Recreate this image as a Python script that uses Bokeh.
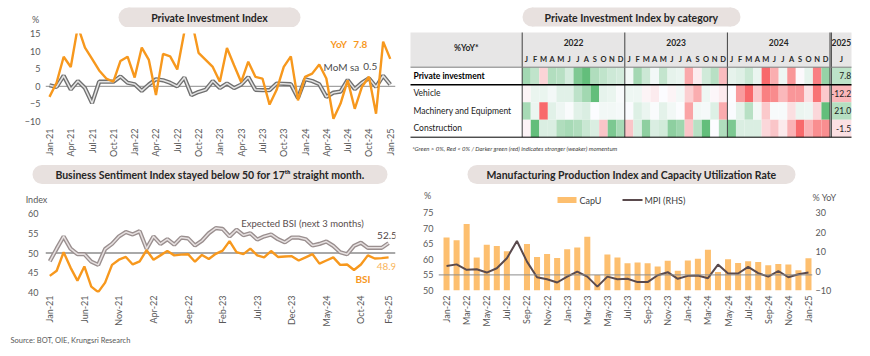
import math
from bokeh.plotting import figure
from bokeh.models import Range1d, LinearAxis, FixedTicker, Span, Label
from bokeh.layouts import row, column
from bokeh.embed import file_html
from bokeh.resources import INLINE
from bokeh.core.properties import value

# ---------------- data ----------------
MON = ["Jan", "Feb", "Mar", "Apr", "May", "Jun", "Jul", "Aug", "Sep", "Oct", "Nov", "Dec"]

# Private Investment Index, Jan-21 .. Jan-25
pii_yoy = [-3.0, 1.0, 8.4, 5.5, 17.0, 11.0, 7.8, 4.5, 2.2, 1.3, 7.2, 8.4,
           2.5, 11.0, 7.5, -2.5, 9.2, 8.5, 4.8, 15.5, 19.0, 9.5, 7.5, 5.5,
           1.3, 10.9, 6.0, 1.2, 7.0, 2.7, 2.2, -5.2, -1.0, 5.5, 8.5, -4.0,
           2.7, 3.6, 6.2, 2.2, -9.2, -4.9, 1.7, -6.4, -0.2, 2.7, -7.8, 12.7,
           7.8]
pii_mom = [0.3, -0.2, 3.0, -0.9, 1.5, -0.5, -4.8, 1.3, 1.3, 1.3, 2.8, 1.0,
           0.6, -1.3, 0.5, 2.0, 1.7, 1.0, 0.0, 2.5, -2.5, -1.6, -1.0, 1.5,
           -0.5, 0.8, -0.5, 0.5, 2.6, -1.0, -1.1, -1.1, 0.8, 0.7, 0.6, -3.3,
           2.0, 1.5, 0.6, -3.0, -1.8, -1.5, 1.8, -0.8, 1.0, 2.3, -0.2, 3.0,
           0.5]

# Heatmap rows, Jan-22 .. Jan-25 (%YoY)
heat_rows = ["Private investment", "Vehicle", "Machinery and Equipment", "Construction"]
heat_private = [11.0, 7.5, -2.5, 9.2, 8.5, 4.8, 15.5, 19.0, 9.5, 7.5, 5.8, 5.1,
                1.3, 10.9, 6.0, 1.2, 7.0, 2.7, 2.2, -5.2, -1.0, 5.5, 8.5, -4.0,
                2.7, 3.6, 6.2, 2.2, -9.2, -4.9, 1.7, -6.4, -0.2, 2.7, -7.8, 12.7,
                7.8]
heat_vehicle = [-1.5, 2, 2, 1, 3, 3, 7, 10, 17, 2.5, 2, 0.5,
                1.5, 1.5, -1.5, -3, 0, -1.5, 1, -8, -14, 1.5, -1, -3,
                0, -17, -26, -9, -22, -20, -12, -18, -18, -5, -24, -9,
                -12.2]
heat_machinery = [25, 5, -20, 8, 4, 1, 8, 10, 0, 3, 3, 2,
                  0.5, 9, 5, 1, 7, 3, 0.3, -12, 3, 2, 9, -11,
                  0.5, 7, 20, 3, -7, 1.5, 1.5, -4, 5, 4, -5, 45,
                  21.0]
heat_construction = [-0.5, 9, 2, 2, 4.5, 5, 4.5, 3, 2, -3, 7.5, 5,
                     -3, 2, 6.5, 2, 2.5, 6.5, 5.5, -3, 4, 9, 0, 4.5,
                     7.5, 2, 2, 2, -2, -3, -1, -4, -8, -4, -6, -6,
                     -1.5]
heat_years = ["2022", "2023", "2024", "2025"]
month_letters = ["J", "F", "M", "A", "M", "J", "J", "A", "S", "O", "N", "D"]

# Business Sentiment Index, Jan-21 .. Feb-25
bsi = [44.2, 45.5, 50.2, 46.3, 43.0, 46.6, 41.5, 40.1, 42.5, 47.0,
       48.3, 49.0, 47.1, 47.9, 50.7, 48.3, 49.4, 50.5, 49.4, 49.6,
       49.7, 47.8, 49.5, 48.5, 49.8, 50.6, 53.0, 50.2, 49.7, 51.1,
       49.4, 48.9, 50.5, 49.0, 49.1, 49.2, 48.1, 48.9, 49.7, 47.3,
       48.1, 48.9, 47.0, 47.1, 45.7, 47.1, 49.4, 48.6, 48.7, 48.9]
bsi_expected = [47.9, 51.1, 54.2, 51.1, 49.7, 49.7, 47.8, 47.0, 51.0, 52.3,
                54.2, 55.3, 54.7, 55.5, 51.1, 54.2, 52.3, 53.5, 52.1, 53.9,
                53.7, 51.9, 53.1, 55.0, 56.3, 56.1, 54.2, 55.9, 54.5, 55.0,
                53.4, 54.2, 54.7, 53.5, 52.7, 53.9, 53.9, 53.5, 51.9, 52.3,
                52.9, 51.8, 50.2, 49.7, 51.8, 52.6, 51.3, 51.3, 51.3, 52.5]

# Capacity utilization (%) and MPI (%YoY), Jan-22 .. Jan-25
capu = [67.0, 66.1, 71.3, 60.6, 64.7, 64.3, 62.6, float("nan"), 64.9, 60.7, 61.7, 60.4,
        63.2, 63.8, 67.2, 55.0, 61.5, 60.6, 58.7, 59.0, 58.7, 57.7, 59.5, 56.3,
        59.6, 60.2, 63.1, 55.9, 60.0, 58.8, 59.4, 59.1, 58.1, 58.5, 58.3, 56.5,
        60.3]
mpi_yoy = [2.6, 3.4, 0.6, 0.9, -0.8, 1.4, 6.5, 15.4, 4.8, -3.2, -4.2, -5.9,
           -2.9, -0.3, -2.9, -8.0, -2.9, -4.2, -4.0, -5.7, -5.7, -2.2, -0.6, -4.0,
           -2.5, -2.3, -3.7, 3.3, -1.3, -1.3, 2.1, -1.1, -2.9, 0.0, -3.2, -1.7,
           -0.8]

# ---------------- style ----------------
FONT = "Lato"
ORANGE = "#F7981D"
LIGHT_ORANGE = "#F9B45C"
BAR = "#FDBF6F"
MPI_C = "#5A4A4D"
TXT = "#595959"
DARK = "#262626"
PILL = "#E8E1DF"


def month_labels(start_year, n):
    return [f"{MON[i % 12]}-{(start_year + i // 12) % 100:02d}" for i in range(n)]


def boxed(f):
    return column(f)


def chart_fig(w, h, xr, yr, left, right, top, bottom):
    p = figure(width=w, height=h, x_range=xr, y_range=yr, output_backend="svg",
               toolbar_location=None, title=None, min_border_left=left, min_border_right=right,
               min_border_top=top, min_border_bottom=bottom)
    p.outline_line_color = None
    p.grid.visible = False
    return p


def plain_fig(w, h, xr=None, yr=None):
    p = figure(width=w, height=h, x_range=xr or Range1d(0, w), y_range=yr or Range1d(h, 0),
               output_backend="svg", toolbar_location=None, title=None,
               x_axis_location=None, y_axis_location=None, min_border=0)
    p.outline_line_color = None
    p.grid.visible = False
    return p


def style_axis(ax, standoff):
    ax.axis_line_color = None
    ax.major_tick_line_color = None
    ax.minor_tick_line_color = None
    ax.major_tick_out = 0
    ax.major_tick_in = 0
    ax.minor_tick_out = 0
    ax.major_label_standoff = standoff
    ax.major_label_text_font = FONT
    ax.major_label_text_font_size = "9px"
    ax.major_label_text_color = TXT


def txt(p, x, y, text, size="9px", color=TXT, align="left", style="normal"):
    p.text(x=[x], y=[y], text=[text], text_font=value(FONT), text_font_size=size,
           text_color=color, text_align=align, text_baseline="middle", text_font_style=style)


def add_label(p, x, y, text, size="9px", color=TXT, align="left", style="normal"):
    p.add_layout(Label(x=x, y=y, text=text, text_font=FONT, text_font_size=size,
                       text_color=color, text_align=align, text_baseline="middle",
                       text_font_style=style))


def pill(p, cx, cy, w, h, text, xunit=1.0):
    # stadium shape: body rect + round ends; xunit = pixels per x data unit
    body = (w - h) / xunit
    p.rect(x=[cx], y=[cy], width=[body], height=[h], fill_color=PILL, line_color=None)
    p.circle(x=[cx - body / 2, cx + body / 2], y=[cy, cy], radius=(h / 2) / xunit,
             fill_color=PILL, line_color=None)
    txt(p, cx, cy + 0.5, text, size="10.5px", color=DARK, align="center", style="bold")


def date_axis(p, labels, step, extra=None, standoff=5):
    ticks = list(range(0, len(labels), step))
    if extra is not None and extra not in ticks:
        ticks.append(extra)
    p.xaxis.ticker = FixedTicker(ticks=ticks)
    p.xaxis.major_label_overrides = {t: labels[t] for t in ticks}
    p.xaxis.major_label_orientation = math.pi / 2
    style_axis(p.xaxis[0], standoff)


def double_line(p, x, y, outer, inner):
    p.line(x, y, line_color=outer, line_width=4.2)
    p.line(x, y, line_color=inner, line_width=1.5)


# ---------------- panel 1: Private Investment Index ----------------
h1 = plain_fig(408, 27)
pill(h1, 209, 17, 182, 20, "Private Investment Index")
txt(h1, 35, 19, "%", align="center")

x1 = list(range(len(pii_yoy)))
c1 = chart_fig(408, 133, Range1d(-0.56, 48.74), Range1d(-10, 15), 45, 13, 6, 39)
c1.add_layout(Span(location=0, dimension="width", line_color="#8C8C8C", line_width=1, level="underlay"))
double_line(c1, x1, pii_mom, "#707070", "#E4E4E4")
c1.line(x1, pii_yoy, line_color=ORANGE, line_width=2.4)
date_axis(c1, month_labels(2021, len(x1)), 3, standoff=7)
c1.yaxis.ticker = FixedTicker(ticks=[-10, -5, 0, 5, 10, 15])
style_axis(c1.yaxis[0], 5)
add_label(c1, 39.6, 11.9, "YoY", size="10px", color=ORANGE, style="bold")
add_label(c1, 42.8, 11.9, f"{pii_yoy[-1]:.1f}", size="10px", color=ORANGE, style="bold")
add_label(c1, 38.6, 5.6, "MoM sa", size="10px", color="#4D4D4D")
add_label(c1, 44.2, 5.6, f"{pii_mom[-1]:.1f}", size="10px", color="#4D4D4D")

# ---------------- panel 2: heatmap table ----------------
COLW = 8.55                       # pixels per month column
X0 = 521.7 - 408                  # left edge of Jan-22 column inside the panel
p2 = plain_fig(462, 160, Range1d(-X0 / COLW, (462 - X0) / COLW), Range1d(160, 0))

ROW_TOP, ROW_H = 66.7, 17.5
HDR_TOP, HDR_MID = 32.0, 52.0
COL25_L, COL25_W = 36.16, 2.34
LEFT_EDGE, RIGHT_EDGE = (410 - 521.7) / COLW, (851 - 521.7) / COLW


def cell_color(v, lo, hi):
    if v >= 0:
        t = v / hi if hi > 0 else 0.0
        c1_ = (99, 190, 123)
    else:
        t = v / lo if lo < 0 else 0.0
        c1_ = (248, 105, 107)
    c0 = (252, 252, 255)
    r, g, b = (round(a + (c - a) * t) for a, c in zip(c0, c1_))
    return f"#{r:02x}{g:02x}{b:02x}"


row_values = [heat_private, heat_vehicle, heat_machinery, heat_construction]
cx, cy, cw, cc = [], [], [], []
for r, vals in enumerate(row_values):
    lo, hi = min(vals), max(vals)
    for k, v in enumerate(vals):
        if k < 36:
            cx.append(k + 0.5)
            cw.append(1.0)
        else:
            cx.append(COL25_L + COL25_W / 2)
            cw.append(COL25_W)
        cy.append(ROW_TOP + ROW_H * (r + 0.5))
        cc.append(cell_color(v, lo, hi))

p2.quad(left=[LEFT_EDGE], right=[RIGHT_EDGE], top=[HDR_TOP], bottom=[ROW_TOP],
        fill_color="#E7E6E6", line_color=None)
p2.rect(x=cx, y=cy, width=cw, height=ROW_H, fill_color=cc, line_color=None)

year_x = [6, 18, 30, COL25_L + COL25_W / 2]
p2.text(x=year_x, y=[(HDR_TOP + HDR_MID) / 2] * 4, text=heat_years, text_font=value(FONT),
        text_font_size="8.5px", text_font_style="bold", text_color=DARK,
        text_align="center", text_baseline="middle")
mx = [k + 0.5 for k in range(36)] + [COL25_L + COL25_W / 2]
ml = month_letters * 3 + [month_letters[0]]
p2.text(x=mx, y=[(HDR_MID + ROW_TOP) / 2] * len(mx), text=ml, text_font=value(FONT),
        text_font_size="7.5px", text_font_style="bold", text_color=DARK,
        text_align="center", text_baseline="middle")
txt(p2, LEFT_EDGE / 2, (HDR_TOP + ROW_TOP) / 2 - 2, "%YoY*", size="8.5px", color=DARK,
    align="center", style="bold")

ry = [ROW_TOP + ROW_H * (r + 0.5) for r in range(4)]
p2.text(x=[LEFT_EDGE + 0.35], y=ry[:1], text=heat_rows[:1], text_font=value(FONT),
        text_font_size="8.5px", text_font_style="bold", text_color="#000000",
        text_align="left", text_baseline="middle")
p2.text(x=[LEFT_EDGE + 0.35] * 3, y=ry[1:], text=heat_rows[1:], text_font=value(FONT),
        text_font_size="8.5px", text_color="#1A1A1A", text_align="left", text_baseline="middle")
p2.text(x=[RIGHT_EDGE - 0.05] * 4, y=ry, text=[f"{vals[-1]:.1f}" for vals in row_values],
        text_font=value(FONT), text_font_size="8.5px", text_color="#1A1A1A",
        text_align="right", text_baseline="middle")

TBL_BOTTOM = ROW_TOP + 4 * ROW_H
p2.segment(x0=[0, 12, 24, 36, COL25_L], y0=[HDR_TOP] * 5, x1=[0, 12, 24, 36, COL25_L],
           y1=[TBL_BOTTOM] * 5, line_color="#404040", line_width=1)
p2.segment(x0=[LEFT_EDGE], y0=[ROW_TOP], x1=[RIGHT_EDGE], y1=[ROW_TOP], line_color="#7F7F7F", line_width=1)
p2.segment(x0=[LEFT_EDGE], y0=[ROW_TOP + ROW_H], x1=[RIGHT_EDGE], y1=[ROW_TOP + ROW_H],
           line_color="#000000", line_width=1.5)
p2.segment(x0=[LEFT_EDGE], y0=[TBL_BOTTOM], x1=[RIGHT_EDGE], y1=[TBL_BOTTOM],
           line_color="#000000", line_width=1)

pill(p2, (631 - 521.7) / COLW, 16.5, 218, 19, "Private Investment Index by category", xunit=COLW)
txt(p2, LEFT_EDGE + 0.2, 148, "*Green > 0%, Red < 0% / Darker green (red) indicates stronger (weaker) momentum",
    size="6px", color="#404040", style="italic")

# ---------------- panel 3: Business Sentiment Index ----------------
h3 = plain_fig(420, 46)
pill(h3, 209.5, 14, 355, 19, "Business Sentiment Index stayed below 50 for 17\u1d57\u02b0 straight month.")
txt(h3, 36, 39, "Index", align="center")

x3 = list(range(len(bsi)))
c3 = chart_fig(420, 123, Range1d(-0.62, 50.0), Range1d(40, 60), 45, 25, 7, 32)
c3.add_layout(Span(location=50, dimension="width", line_color="#8C8C8C", line_width=1.5, level="underlay"))
double_line(c3, x3, bsi_expected, "#9A8F8F", "#E6E0E0")
c3.line(x3, bsi, line_color=ORANGE, line_width=2.4)
date_axis(c3, month_labels(2021, len(x3)), 5, extra=len(x3) - 1, standoff=3)
c3.yaxis.ticker = FixedTicker(ticks=[40, 45, 50, 55, 60])
style_axis(c3.yaxis[0], 7)
add_label(c3, 36.55, 57.4, "Expected BSI (next 3 months)", size="9.5px", color="#5A4E4E", align="center")
add_label(c3, 48.77, 54.5, f"{bsi_expected[-1]:.1f}", size="10px", color="#4D4545", align="center")
add_label(c3, 48.7, 46.7, f"{bsi[-1]:.1f}", size="10px", color=LIGHT_ORANGE, align="center")
add_label(c3, 45.3, 43.3, "BSI", size="10px", color=ORANGE, align="center", style="bold")

f3 = plain_fig(420, 27)
txt(f3, 10, 11, "Source: BOT, OIE, Krungsri Research", size="7.5px", color=TXT)

# ---------------- panel 4: MPI and CapU ----------------
h4 = plain_fig(450, 46)
pill(h4, 211, 14, 328, 19, "Manufacturing Production Index and Capacity Utilization Rate")
txt(h4, 7, 35, "%", align="center")
txt(h4, 404, 37, "% YoY", align="center")
LEG_Y = 39.5
h4.quad(left=[137], right=[156], top=[LEG_Y - 3], bottom=[LEG_Y + 3], fill_color=BAR, line_color=None)
txt(h4, 159, LEG_Y, "CapU", size="9px", color="#404040")
h4.segment(x0=[202], y0=[LEG_Y], x1=[222], y1=[LEG_Y], line_color=MPI_C, line_width=2)
txt(h4, 224, LEG_Y, "MPI (RHS)", size="9px", color="#404040")

x4 = list(range(len(capu)))
c4 = chart_fig(450, 123, Range1d(-0.8, 36.4), Range1d(50, 75), 17, 58, 6, 38)
c4.extra_y_ranges = {"mpi": Range1d(-10, 30)}
c4.vbar(x=x4, top=capu, bottom=50, width=0.6, fill_color=BAR, line_color=None)
c4.add_layout(Span(location=55, dimension="width", line_color="#8C8C8C", line_width=1))
c4.line(x4, mpi_yoy, y_range_name="mpi", line_color=MPI_C, line_width=2)
date_axis(c4, month_labels(2022, len(x4)), 2, standoff=5)
c4.yaxis.ticker = FixedTicker(ticks=[50, 55, 60, 65, 70, 75])
style_axis(c4.yaxis[0], 5)
rax = LinearAxis(y_range_name="mpi", ticker=FixedTicker(ticks=[-10, 0, 10, 20, 30]))
c4.add_layout(rax, "right")
style_axis(rax, 3)

layout = column(
    row(column(boxed(h1), boxed(c1)), boxed(p2)),
    row(column(boxed(h3), boxed(c3), boxed(f3)), column(boxed(h4), boxed(c4))),
)
open("out.html", "w").write(file_html(layout, INLINE))
